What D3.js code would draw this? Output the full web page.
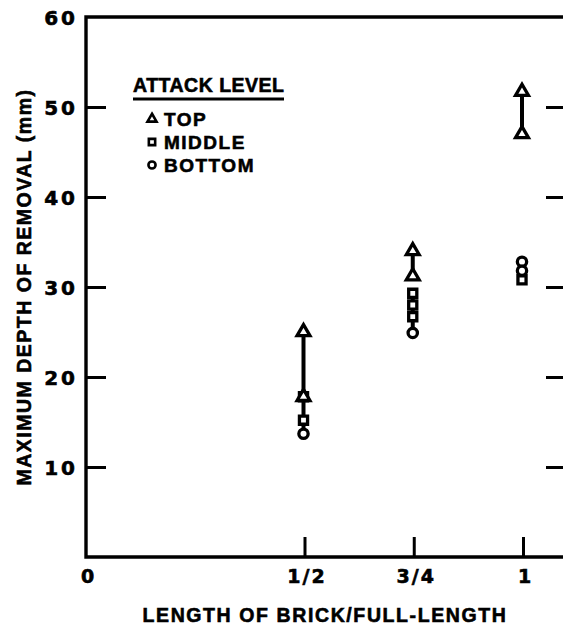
<!DOCTYPE html>
<html><head><meta charset="utf-8">
<script src="https://cdn.jsdelivr.net/npm/d3@7"></script>
<style>
html,body{margin:0;padding:0;background:#fff;}
svg{display:block;}
</style></head>
<body>
<script>
// ---- data ----
const xTicks = [0, 0.5, 0.75, 1];
const xTickLabels = ["0", "1/2", "3/4", "1"];
const yTicks = [10, 20, 30, 40, 50, 60];
const topX = [0.5, 0.5, 0.75, 0.75, 1, 1];
const topY = [25, 17.8, 34, 31.2, 51.7, 47];
const midX = [0.5, 0.5, 0.75, 0.75, 0.75, 1];
const midY = [17.8, 15.2, 29.3, 28, 26.7, 30.8];
const botX = [0.5, 0.75, 1, 1];
const botY = [13.7, 24.9, 32.8, 31.8];
const rangeX = [0.5, 0.75, 0.75, 1];
const rangeLo = [13.7, 31.2, 24.9, 47];
const rangeHi = [25, 34, 29.3, 51.7];
const legendLabels = ["TOP", "MIDDLE", "BOTTOM"];
const xTitle = "LENGTH OF BRICK/FULL-LENGTH";
const yTitle = "MAXIMUM DEPTH OF REMOVAL (mm)";
const legendTitle = "ATTACK LEVEL";

// ---- layout ----
const W = 563, H = 628;
const svg = d3.select("body").append("svg").attr("width", W).attr("height", H);
const x = d3.scaleLinear().domain([0, 1]).range([86, 523]);
const y = d3.scaleLinear().domain([0, 60]).range([557, 17]);
const xMax = x.invert(566);

const ink = "#000";
const SANS = '"Liberation Sans", Arial, sans-serif';
const DIG = '"DejaVu Sans", sans-serif';
const g = svg.append("g");

function txt(sel, family, size, ls) {
  return sel.style("font-family", family).style("font-weight", "bold")
    .style("font-size", size + "px").style("letter-spacing", ls + "px").style("fill", ink)
    .style("stroke", ink).style("stroke-width", "0.6px");
}

// frame
g.append("path")
  .attr("d", `M${x(xMax)},${y(60)}H${x(0)}V${y(0)}H${x(xMax)}V${y(60)}`)
  .attr("fill", "none").attr("stroke", ink).attr("stroke-width", 3.4);

// left y ticks (inward) with labels
const yAxisL = d3.axisLeft(y).tickValues(yTicks).tickSizeInner(-20).tickSizeOuter(0).tickPadding(8).tickFormat(d3.format("d"));
const gyl = g.append("g").attr("transform", `translate(${x(0)},0)`).call(yAxisL);
gyl.select(".domain").remove();
gyl.selectAll(".tick line").attr("stroke", ink).attr("stroke-width", 3);
gyl.selectAll(".tick").filter(d => d === 60).select("line").remove();
txt(gyl.selectAll(".tick text"), DIG, 20, 3).attr("dy", "0.36em");

// right y ticks (inward)
const yAxisR = d3.axisRight(y).tickValues(yTicks.filter(d => d < 60)).tickSizeInner(-20).tickSizeOuter(0).tickFormat("");
const gyr = g.append("g").attr("transform", `translate(${x(xMax)},0)`).call(yAxisR);
gyr.select(".domain").remove();
gyr.selectAll(".tick line").attr("stroke", ink).attr("stroke-width", 3);

// x ticks (inward) with labels
const xAxis = d3.axisBottom(x).tickValues(xTicks).tickSizeInner(-20).tickSizeOuter(0).tickPadding(0)
  .tickFormat((d, i) => xTickLabels[i]);
const gx = g.append("g").attr("transform", `translate(0,${y(0)})`).call(xAxis);
gx.select(".domain").remove();
gx.selectAll(".tick line").attr("stroke", ink).attr("stroke-width", 3);
gx.selectAll(".tick").filter(d => d === 0).select("line").remove();
txt(gx.selectAll(".tick text"), DIG, 19, 2).attr("y", 26).attr("dy", 0).attr("dx", 2);

// axis titles
txt(g.append("text"), SANS, 19.5, 1.6).attr("x", 325).attr("y", 622).attr("text-anchor", "middle").text(xTitle);
txt(g.append("text"), SANS, 19.5, 1.5).attr("transform", "translate(31,287) rotate(-90)").attr("text-anchor", "middle").text(yTitle);

// range lines
const dx0 = -1;
const ranges = rangeX.map((v, i) => ({x: v, lo: rangeLo[i], hi: rangeHi[i]}));
g.selectAll("line.range").data(ranges).join("line").attr("class", "range")
  .attr("x1", d => x(d.x) + dx0).attr("x2", d => x(d.x) + dx0)
  .attr("y1", d => y(d.hi)).attr("y2", d => y(d.lo))
  .attr("stroke", ink).attr("stroke-width", 4);

// markers
const triSym = d3.symbol().type(d3.symbolTriangle);
const sqSym = d3.symbol().type(d3.symbolSquare);
const ciSym = d3.symbol().type(d3.symbolCircle);
const mk = (xs, ys) => xs.map((v, i) => ({x: v, y: ys[i]}));
function drawMarkers(data, sym, size, cls) {
  g.selectAll("path." + cls).data(data).join("path").attr("class", cls)
    .attr("d", sym.size(size)())
    .attr("transform", d => `translate(${x(d.x) + dx0},${y(d.y)})`)
    .attr("fill", "#fff").attr("stroke", ink).attr("stroke-width", 3.3);
}
drawMarkers(mk(botX, botY), ciSym, 68, "bot");
drawMarkers(mk(midX, midY), sqSym, 66, "mid");
drawMarkers(mk(topX, topY), triSym, 72, "top");

// legend
const lg = svg.append("g");
txt(lg.append("text"), SANS, 19.5, 0.5).attr("x", 133).attr("y", 92).text(legendTitle);
lg.append("line").attr("x1", 133).attr("x2", 284).attr("y1", 99).attr("y2", 99).attr("stroke", ink).attr("stroke-width", 2.8);
const legSyms = [triSym, sqSym, ciSym];
const legSizes = [36, 40, 40];
const legY = [126, 149, 172];
legendLabels.forEach((t, i) => {
  lg.append("path").attr("d", legSyms[i].size(legSizes[i])())
    .attr("transform", `translate(152,${legY[i] - 7})`)
    .attr("fill", "#fff").attr("stroke", ink).attr("stroke-width", 2.6);
  txt(lg.append("text"), SANS, 19, 1.5).attr("x", 164).attr("y", legY[i]).text(t);
});
</script>
</body></html>
